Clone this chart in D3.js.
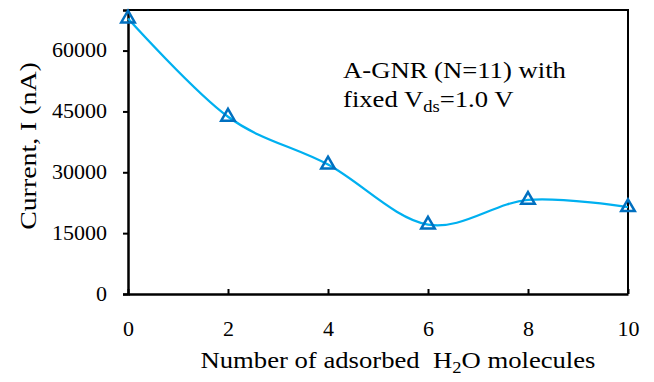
<!DOCTYPE html>
<html>
<head>
<meta charset="utf-8">
<script src="https://cdn.jsdelivr.net/npm/d3@7"></script>
<style>
    body { margin: 0; background: #fff; }
    text { font-family: "Liberation Serif", "Times New Roman", serif; fill: #000; }
</style>
</head>
<body>
<div id="chart"></div>
<script>
// number of adsorbed water molecules
const molecules = [0, 2, 4, 6, 8, 10];
// current in nA
const current = [67900, 43700, 31900, 17100, 23200, 21400];
const xTicks = [0, 2, 4, 6, 8, 10];
const yTicks = [0, 15000, 30000, 45000, 60000];

let margin = {top: 10, right: 26, bottom: 88, left: 128},
    width = 654 - margin.left - margin.right,
    height = 382 - margin.top - margin.bottom;

// the original text is a little wider than Times, stretch it along the line
const stretch = 1.16;

let svg = d3.select("#chart")
    .append("svg")
    .attr("width", 654)
    .attr("height", 382);

let g = svg.append("g")
    .attr("transform", "translate(" + margin.left + "," + margin.top + ")");

let x = d3.scaleLinear().domain([0, 10]).range([0, width]);
let y = d3.scaleLinear().domain([0, 70000]).range([height, 0]);

// frame on top and right
g.append("path")
    .attr("d", "M0,0H" + width + "V" + height)
    .attr("fill", "none")
    .attr("stroke", "#000")
    .attr("stroke-width", 2);

// Y axis, ticks pointing out
let yAxis = g.append("g")
    .call(d3.axisLeft(y).tickValues(yTicks).tickSize(5).tickPadding(0).tickFormat(d3.format("d")));
yAxis.select(".domain").attr("stroke-width", 2.5);
yAxis.selectAll(".tick line").attr("stroke-width", 2);
yAxis.selectAll("text")
    .attr("x", null)
    .attr("transform", "translate(-21,0) scale(1.1,1)")
    .style("font-size", "20px")
    .attr("font-family", null);

// X axis, ticks pointing in
let xAxis = g.append("g")
    .attr("transform", "translate(0," + height + ")")
    .call(d3.axisBottom(x).tickValues(xTicks).tickSizeInner(-5).tickSizeOuter(0).tickPadding(28));
xAxis.select(".domain").attr("stroke-width", 2.5);
xAxis.selectAll(".tick line").attr("stroke-width", 2);
xAxis.selectAll("text")
    .attr("transform", "scale(1.1,1)")
    .style("font-size", "20px")
    .attr("font-family", null);

// smoothed line
let line = d3.line()
    .x((d, i) => x(molecules[i]))
    .y(d => y(d))
    .curve(d3.curveCardinal.tension(0));

g.append("path")
    .datum(current)
    .attr("d", line)
    .attr("fill", "none")
    .attr("stroke", "#00B0F0")
    .attr("stroke-width", 2.3);

// triangle markers
g.selectAll(".marker")
    .data(current)
    .enter()
    .append("path")
    .attr("class", "marker")
    .attr("d", d3.symbol().type(d3.symbolTriangle).size(80))
    .attr("transform", (d, i) => "translate(" + x(molecules[i]) + "," + y(d) + ")")
    .attr("fill", "none")
    .attr("stroke", "#0070C0")
    .attr("stroke-width", 2.5);

// axis titles
svg.append("text")
    .attr("transform", "translate(398,368) scale(" + stretch + ",1)")
    .attr("text-anchor", "middle")
    .style("font-size", "23px")
    .html('Number of adsorbed \u00a0H<tspan dy="5" font-size="16px">2</tspan><tspan dy="-5">O molecules</tspan>');

svg.append("text")
    .attr("transform", "translate(36,146) rotate(-90) scale(" + stretch + ",1)")
    .attr("text-anchor", "middle")
    .style("font-size", "24px")
    .text("Current, I (nA)");

// annotation
let note = svg.append("text")
    .attr("transform", "translate(343,78) scale(" + stretch + ",1)")
    .style("font-size", "23px");
note.append("tspan").attr("x", 0).attr("y", 0).text("A-GNR (N=11) with");
note.append("tspan").attr("x", 0).attr("y", 29).text("fixed V");
note.append("tspan").attr("dy", 5).style("font-size", "16px").text("ds");
note.append("tspan").attr("dy", -5).text("=1.0 V");
</script>
</body>
</html>
